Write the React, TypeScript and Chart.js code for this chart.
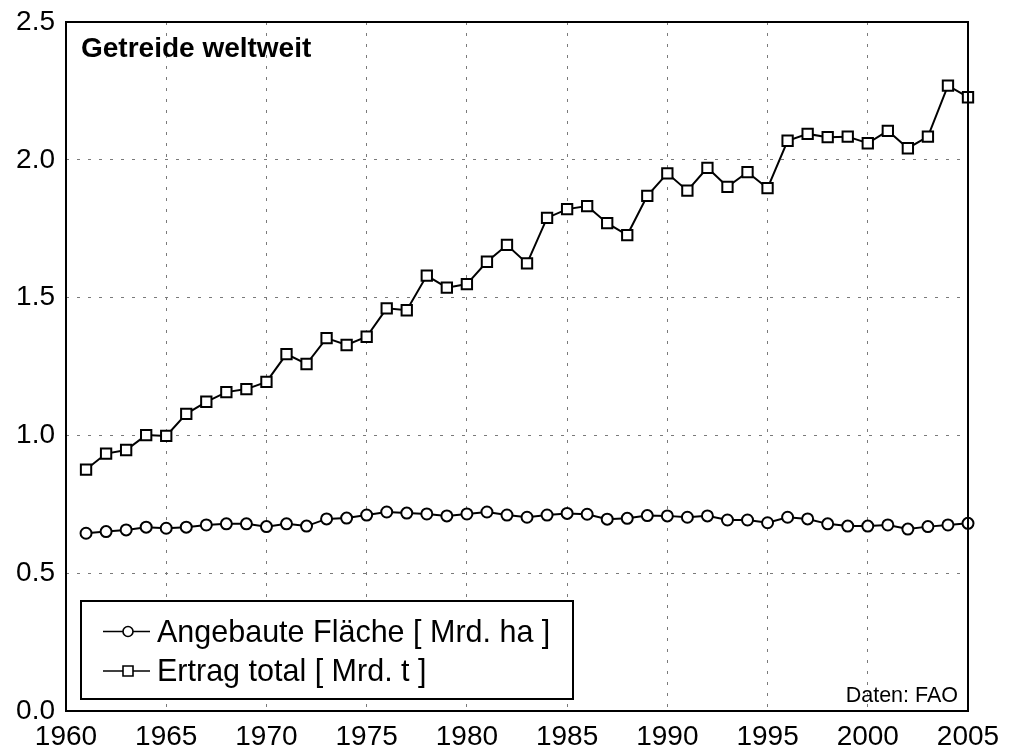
import React, { useEffect, useRef } from "react";
import { Chart, registerables } from "chart.js";

Chart.register(...registerables);

const years: number[] = [];
for (let y = 1961; y <= 2005; y++) years.push(y);

const flaeche = [
  0.645, 0.651, 0.657, 0.667, 0.663, 0.667, 0.675, 0.679, 0.679, 0.669,
  0.679, 0.671, 0.697, 0.700, 0.711, 0.722, 0.718, 0.715, 0.708, 0.715,
  0.722, 0.711, 0.703, 0.711, 0.717, 0.714, 0.696, 0.699, 0.709, 0.708,
  0.703, 0.708, 0.693, 0.693, 0.683, 0.703, 0.697, 0.679, 0.671, 0.671,
  0.675, 0.660, 0.669, 0.675, 0.681,
];

const ertrag = [
  0.876, 0.934, 0.947, 1.001, 0.998, 1.078, 1.122, 1.157, 1.168, 1.194,
  1.295, 1.259, 1.353, 1.328, 1.358, 1.461, 1.454, 1.580, 1.536, 1.549,
  1.630, 1.691, 1.624, 1.789, 1.821, 1.832, 1.770, 1.727, 1.869, 1.951,
  1.888, 1.971, 1.902, 1.955, 1.897, 2.069, 2.094, 2.082, 2.084, 2.060,
  2.105, 2.042, 2.084, 2.269, 2.227,
];

const titleText = "Getreide weltweit";
const sourceText = "Daten: FAO";
const seriesLabels = ["Angebaute Fläche [ Mrd. ha ]", "Ertrag total [ Mrd. t ]"];
const seriesMarkers = ["circle", "rect"];

const FONT = "'Liberation Sans', Arial, sans-serif";

const overlayPlugin = {
  id: "overlay",
  afterDraw(chart: any) {
    const ctx = chart.ctx;
    const a = chart.chartArea;
    ctx.save();
    ctx.strokeStyle = "#000";
    ctx.lineWidth = 2;
    ctx.setLineDash([]);
    ctx.strokeRect(a.left, a.top, a.right - a.left, a.bottom - a.top);
    ctx.fillStyle = "#000";
    ctx.font = `bold 28px ${FONT}`;
    ctx.textAlign = "left";
    ctx.textBaseline = "alphabetic";
    ctx.fillText(titleText, 81, 57);
    ctx.font = `21.5px ${FONT}`;
    ctx.textAlign = "right";
    ctx.fillText(sourceText, 958, 702);
    const lx = 81, ly = 601, lw = 492, lh = 98;
    ctx.fillStyle = "#fff";
    ctx.fillRect(lx, ly, lw, lh);
    ctx.strokeStyle = "#000";
    ctx.lineWidth = 2;
    ctx.strokeRect(lx, ly, lw, lh);
    const rows = [631.5, 671];
    chart.data.datasets.forEach((ds: any, i: number) => {
      const cy = rows[i];
      ctx.beginPath();
      ctx.strokeStyle = "#000";
      ctx.lineWidth = 1.6;
      ctx.moveTo(103, cy);
      ctx.lineTo(150, cy);
      ctx.stroke();
      ctx.fillStyle = "#fff";
      ctx.beginPath();
      if (seriesMarkers[i] === "circle") {
        ctx.arc(128, cy, 5, 0, Math.PI * 2);
      } else {
        ctx.rect(128 - 5, cy - 5, 10, 10);
      }
      ctx.fill();
      ctx.stroke();
      ctx.fillStyle = "#000";
      ctx.font = `30.5px ${FONT}`;
      ctx.textAlign = "left";
      ctx.textBaseline = "alphabetic";
      ctx.fillText(ds.label, 157, cy + 10);
    });
    ctx.restore();
  },
};

export default function App() {
  const ref = useRef<HTMLCanvasElement | null>(null);
  useEffect(() => {
    document.body.style.margin = "0";
    const canvas = ref.current!;
    const mk = (vals: number[]) => years.map((x, i) => ({ x, y: vals[i] }));
    const chart = new Chart(canvas, {
      type: "line",
      data: {
        datasets: [
          {
            label: seriesLabels[0],
            data: mk(flaeche),
            borderColor: "#000",
            borderWidth: 2,
            backgroundColor: "#fff",
            pointStyle: "circle",
            pointRadius: 5.5,
            pointBorderWidth: 2,
            pointBackgroundColor: "#fff",
            pointBorderColor: "#000",
            tension: 0,
            clip: false,
          },
          {
            label: seriesLabels[1],
            data: mk(ertrag),
            borderColor: "#000",
            borderWidth: 2,
            backgroundColor: "#fff",
            pointStyle: "rect",
            pointRadius: 7.3,
            pointBorderWidth: 2,
            pointBackgroundColor: "#fff",
            pointBorderColor: "#000",
            tension: 0,
            clip: false,
          },
        ],
      },
      options: {
        animation: false,
        responsive: false,
        maintainAspectRatio: false,
        layout: { padding: { top: 22, right: 42, left: 0, bottom: 0 } },
        plugins: { legend: { display: false }, tooltip: { enabled: false } },
        scales: {
          x: {
            type: "linear",
            min: 1960,
            max: 2005,
            grid: { color: "#7a7a7a", lineWidth: 1, drawTicks: false },
            border: { display: false, dash: [3, 8] },
            ticks: {
              stepSize: 5,
              padding: 9,
              color: "#000",
              font: { size: 28, family: FONT },
              maxRotation: 0,
              autoSkip: false,
              callback: (v: any) => String(v),
            },
            afterFit: (s: any) => {
              s.height = 45;
            },
          },
          y: {
            min: 0,
            max: 2.5,
            grid: { color: "#7a7a7a", lineWidth: 1, drawTicks: false },
            border: { display: false, dash: [3, 8] },
            ticks: {
              stepSize: 0.5,
              padding: 11,
              color: "#000",
              font: { size: 28, family: FONT, lineHeight: 0.4 },
              callback: (v: any) => Number(v).toFixed(1),
            },
            afterFit: (s: any) => {
              s.width = 66;
            },
          },
        },
      },
      plugins: [overlayPlugin],
    } as any);
    return () => chart.destroy();
  }, []);
  return (
    <div style={{ width: 1010, height: 756 }}>
      <canvas ref={ref} width={1010} height={756} style={{ display: "block" }} />
    </div>
  );
}
